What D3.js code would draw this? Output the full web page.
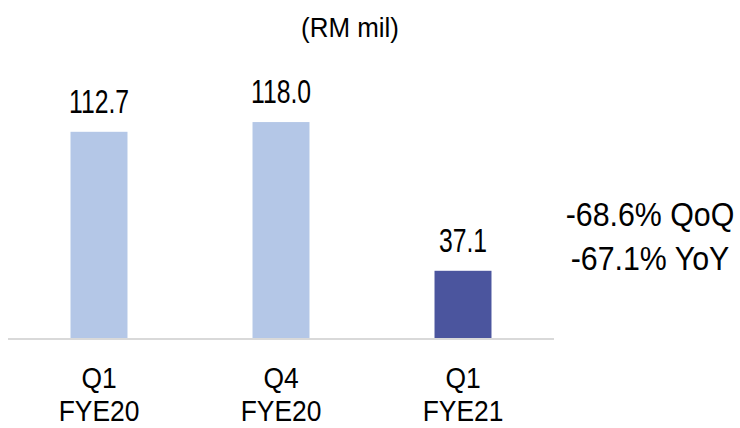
<!DOCTYPE html>
<html>
<head>
<meta charset="utf-8">
<script src="https://cdn.jsdelivr.net/npm/d3@7"></script>
<style>
    html, body { margin: 0; padding: 0; background: #fff; }
    svg { display: block; }
</style>
</head>
<body>
<div id="chart"></div>
<script>
// Quarterly figures (RM mil)
const quarters = ['Q1', 'Q4', 'Q1'];
const fiscalYears = ['FYE20', 'FYE20', 'FYE21'];
const values = [112.7, 118.0, 37.1];
const changeNotes = ['-68.6% QoQ', '-67.1% YoY'];
const unitLabel = '(RM mil)';

const width = 740, height = 428;
const baseY = 339;
const font = "'Liberation Sans', Arial, sans-serif";

const svg = d3.select('#chart')
    .append('svg')
    .attr('width', width)
    .attr('height', height);

const x = d3.scaleBand()
    .domain(d3.range(values.length))
    .range([8, 554])
    .paddingInner(0.687)
    .paddingOuter(0.3435);

const y = d3.scaleLinear()
    .domain([0, 130])
    .range([baseY, 100]);

// helper: squeezed text like the narrow font of the original
function label(g, tx, ty, str, size, sx) {
    return g.append('text')
        .attr('transform', `translate(${tx},${ty}) scale(${sx},1)`)
        .attr('text-anchor', 'middle')
        .attr('font-family', font)
        .attr('font-size', size + 'px')
        .attr('fill', '#000')
        .text(str);
}

// bars
svg.selectAll('rect.bar')
    .data(values)
    .enter()
    .append('rect')
    .attr('class', 'bar')
    .attr('x', (d, i) => x(i))
    .attr('y', d => y(d))
    .attr('width', x.bandwidth())
    .attr('height', d => y(0) - y(d))
    .attr('fill', (d, i) => i === values.length - 1 ? '#4B559E' : '#B4C7E7');

// baseline
svg.append('line')
    .attr('x1', x.range()[0])
    .attr('x2', x.range()[1])
    .attr('y1', baseY)
    .attr('y2', baseY)
    .attr('stroke', '#d9d9d9')
    .attr('stroke-width', 2);

// value labels
values.forEach((v, i) => {
    label(svg, x(i) + x.bandwidth() / 2, y(v) - 19, v.toFixed(1), 33, 0.75);
});

// category labels
quarters.forEach((q, i) => {
    const cx = x(i) + x.bandwidth() / 2;
    label(svg, cx, 388, q, 30, 0.88);
    label(svg, cx, 421, fiscalYears[i], 30, 0.88);
});

// unit title
label(svg, 350, 37, unitLabel, 27, 0.96);

// change annotation
changeNotes.forEach((t, i) => {
    label(svg, 650, 226 + i * 44, t, 33, 0.92);
});
</script>
</body>
</html>
